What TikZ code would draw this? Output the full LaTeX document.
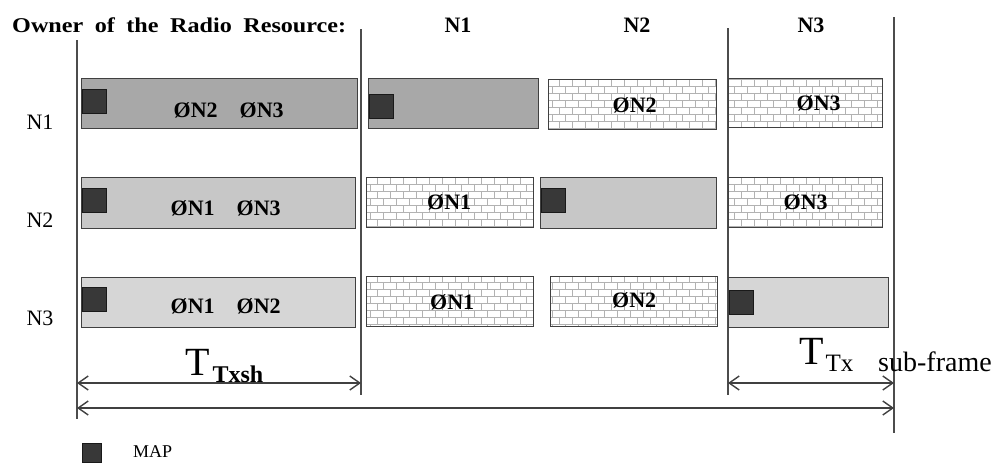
\documentclass[tikz,border=0pt]{standalone}
\usepackage{fontspec}
\setmainfont{Liberation Serif}
\usetikzlibrary{arrows.meta,patterns}
% brick wall fill for slots used by the other owners
\pgfdeclarepatternformonly{wall}{\pgfpoint{-1pt}{-1pt}}{\pgfpoint{14pt}{15pt}}{\pgfpoint{13pt}{14pt}}{
  \pgfsetlinewidth{0.9pt}
  \pgfpathmoveto{\pgfpoint{0pt}{0pt}}\pgfpathlineto{\pgfpoint{13pt}{0pt}}
  \pgfpathmoveto{\pgfpoint{0pt}{7pt}}\pgfpathlineto{\pgfpoint{13pt}{7pt}}
  \pgfpathmoveto{\pgfpoint{0pt}{0pt}}\pgfpathlineto{\pgfpoint{0pt}{7pt}}
  \pgfpathmoveto{\pgfpoint{6.5pt}{7pt}}\pgfpathlineto{\pgfpoint{6.5pt}{14pt}}
  \pgfusepath{stroke}
}
\tikzset{
  slot/.style    = {draw=black!75, line width=1.3pt, anchor=north west, inner sep=0pt},
  wallslot/.style= {slot, pattern=wall, pattern color=black!30},
  mapbox/.style  = {draw=black!90, fill=black!78, line width=0.8pt, anchor=north west,
                    inner sep=0pt, minimum size=24pt},
  sep/.style     = {draw=black!70, line width=1.4pt},
  span/.style    = {draw=black!75, line width=1.4pt,
                    {Straight Barb[length=10pt,width=14pt]}-{Straight Barb[length=10pt,width=14pt]}},
  slab/.style    = {font=\fontsize{22}{22}\selectfont\bfseries, inner sep=0pt},
  rowlab/.style  = {font=\fontsize{22}{22}\selectfont, inner sep=0pt},
  collab/.style  = {font=\fontsize{22}{22}\selectfont\bfseries, inner sep=0pt},
}

\begin{document}
\begin{tikzpicture}[x=1pt, y=-1pt]
\useasboundingbox (0,0) rectangle (998,464);

% ── Owners: header and row labels ────────────────────────────
\node[anchor=west, inner sep=0pt, xscale=1.15,
      font=\fontsize{21}{21}\selectfont\bfseries] (owner) at (12,25)
      {\spaceskip=10pt\relax Owner of the Radio Resource:};
\foreach \k/\xx in {1/458, 2/637, 3/811}{
  \node[collab] (col\k) at (\xx,25) {N\k};
}
\foreach \k/\yy in {1/122, 2/220, 3/318}{
  \node[rowlab] (row\k) at (40,\yy) {N\k};
}

% ── Sub-frame borders ────────────────────────────────────────
\coordinate (sep0) at (77,0);
\coordinate (sep1) at (361,0);
\coordinate (sep2) at (728,0);
\coordinate (sep3) at (894,0);
\draw[sep] (77,40) -- (77,419);
\draw[sep] (361,29) -- (361,395);
\draw[sep] (728,28) -- (728,395);
\draw[sep] (894,17) -- (894,433);

% ── Own slots (grey, MAP at the start) ───────────────────────
\foreach \nm/\xa/\ya/\xb/\yb/\fc/\dy in {%
    aa/81/78/357/128/black!34/11, ab/368/78/538/128/black!34/16,
    ba/81/177/355/228/black!22/11, bc/540/177/716/228/black!22/11,
    ca/81/277/355/327/black!16/10, cd/728/277/888/327/black!16/13}{
  \node[slot, fill=\fc, minimum width={(\xb-\xa)*1pt},
        minimum height={(\yb-\ya)*1pt}] (\nm) at (\xa,\ya) {};
  \node[mapbox] (map-\nm) at ([xshift=1pt,yshift=-\dy pt]\nm.north west) {};
}

% ── Slots of the other owners (brick) ────────────────────────
\foreach \nm/\xa/\ya/\xb/\yb in {%
    ac/548/79/716/129, ad/728/78/882/127,
    bb/366/177/533/227, bd/728/177/882/227,
    cb/366/276/533/326, cc/550/276/717/326}{
  \node[wallslot, minimum width={(\xb-\xa)*1pt},
        minimum height={(\yb-\ya)*1pt}] (\nm) at (\xa,\ya) {};
}

% ── Silenced nodes in each slot ──────────────────────────────
\foreach \nm/\dx/\dy/\txt in {%
    aa/9/7/{ØN2\quad ØN3}, ac/2/1/{ØN2}, ad/13/0/{ØN3},
    ba/7/5/{ØN1\quad ØN3}, bb/-1/0/{ØN1}, bd/0/0/{ØN3},
    ca/7/4/{ØN1\quad ØN2}, cb/2/1/{ØN1}, cc/0/-1/{ØN2}}{
  \node[slab] (t-\nm) at ([xshift=\dx pt,yshift=-\dy pt]\nm.center) {\txt};
}

% ── Durations ────────────────────────────────────────────────
\coordinate (lvlA) at (0,383);
\coordinate (lvlB) at (0,408);
\draw[span] (sep0 |- lvlA) -- (sep1 |- lvlA);
\draw[span] (sep2 |- lvlA) -- (sep3 |- lvlA);
\draw[span] (sep0 |- lvlB) -- (sep3 |- lvlB);
\node[anchor=base west, inner sep=0pt] (txsh) at (185,375)
  {\fontsize{40}{40}\selectfont T\hspace{3pt}\raisebox{-7pt}{\fontsize{24}{24}\selectfont\bfseries Txsh}};
\node[anchor=base west, inner sep=0pt] (ttx) at (799,364)
  {\fontsize{40}{40}\selectfont T\hspace{2pt}\raisebox{-7pt}{\fontsize{25}{25}\selectfont Tx}};
\node[anchor=base west, inner sep=0pt, font=\fontsize{28}{28}\selectfont] (subfr) at (878,371)
  {sub-frame};

% ── Legend ───────────────────────────────────────────────────
\node[mapbox, minimum size=19pt] (legmap) at (82,443) {};
\node[anchor=west, inner sep=0pt, font=\fontsize{18}{18}\selectfont] (legtxt) at (133,452) {MAP};

\end{tikzpicture}
\end{document}
